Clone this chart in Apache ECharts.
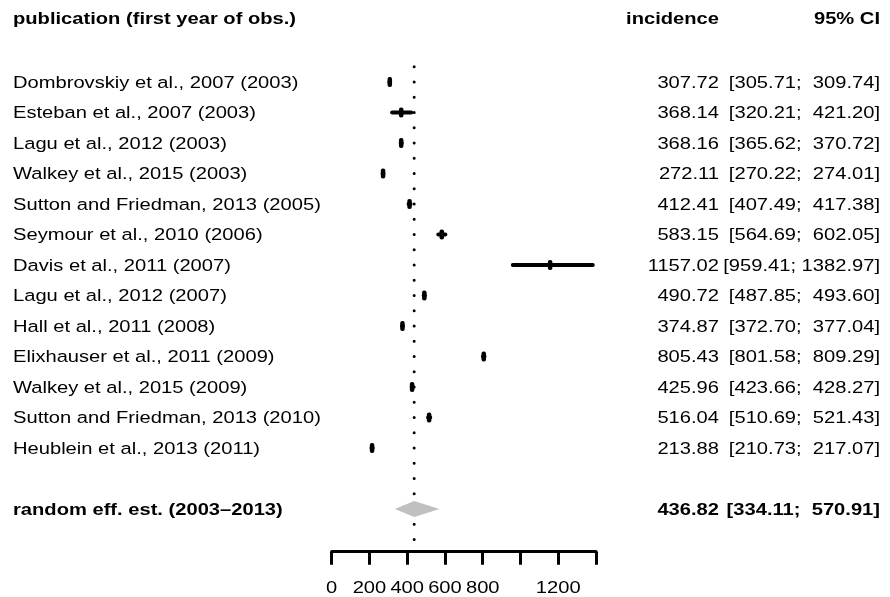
<!DOCTYPE html>
<html>
<head>
<meta charset="utf-8">
<script src="https://cdn.jsdelivr.net/npm/echarts@6/dist/echarts.min.js"></script>
<style>
  html, body { margin: 0; padding: 0; background: #fff; }
  #main { width: 890px; height: 597px; }
</style>
</head>
<body>
<div id="main"></div>
<script>
// Study rows: publication label, incidence estimate and 95% confidence interval
const studies = [
  'Dombrovskiy et al., 2007 (2003)',
  'Esteban et al., 2007 (2003)',
  'Lagu et al., 2012 (2003)',
  'Walkey et al., 2015 (2003)',
  'Sutton and Friedman, 2013 (2005)',
  'Seymour et al., 2010 (2006)',
  'Davis et al., 2011 (2007)',
  'Lagu et al., 2012 (2007)',
  'Hall et al., 2011 (2008)',
  'Elixhauser et al., 2011 (2009)',
  'Walkey et al., 2015 (2009)',
  'Sutton and Friedman, 2013 (2010)',
  'Heublein et al., 2013 (2011)'
];
const incidence = [307.72, 368.14, 368.16, 272.11, 412.41, 583.15, 1157.02, 490.72, 374.87, 805.43, 425.96, 516.04, 213.88];
const ciLower   = [305.71, 320.21, 365.62, 270.22, 407.49, 564.69, 959.41, 487.85, 372.70, 801.58, 423.66, 510.69, 210.73];
const ciUpper   = [309.74, 421.20, 370.72, 274.01, 417.38, 602.05, 1382.97, 493.60, 377.04, 809.29, 428.27, 521.43, 217.07];

// Pooled random-effects estimate
const pooledLabel = 'random eff. est. (2003\u20132013)';
const pooledEstimate = 436.82;
const pooledLower = 334.11;
const pooledUpper = 570.91;

// Column headers
const headerStudy = 'publication (first year of obs.)';
const headerIncidence = 'incidence';
const headerCI = '95% CI';

// Incidence axis
const axisTicks = [0, 200, 400, 600, 800, 1000, 1200, 1400];
const axisTickLabels = ['0', '200', '400', '600', '800', '', '1200', ''];

const pooledRow = studies.length + 1;
const FAMILY = '"Liberation Sans", Arial, Helvetica, sans-serif';
const FONT_SIZE = 16.8;
const WIDEN = 1.2;          // horizontal stretch of the table lettering

const upWidth = Math.max(...ciUpper.concat([pooledUpper]).map(v => v.toFixed(2).length));
const loWidth = Math.max(...ciLower.concat([pooledLower]).map(v => v.toFixed(2).length));
function ciText(lo, hi) {
  return '[' + lo.toFixed(2).padStart(loWidth, ' ') + '; ' + hi.toFixed(2).padStart(upWidth, ' ') + ']';
}

const studyData = studies.map((s, i) => [incidence[i], i, ciLower[i], ciUpper[i]]);
const textRows = studies.map((s, i) => ({
  value: [0, i],
  label: s,
  est: incidence[i].toFixed(2),
  ci: ciText(ciLower[i], ciUpper[i]),
  bold: false
}));
textRows.push({
  value: [0, pooledRow],
  label: pooledLabel,
  est: pooledEstimate.toFixed(2),
  ci: ciText(pooledLower, pooledUpper),
  bold: true
});

function textEl(x, y, text, align, bold) {
  return {
    type: 'text',
    x: x, y: y,
    scaleX: WIDEN,
    style: {
      text: text,
      fill: '#000',
      fontSize: FONT_SIZE,
      fontFamily: FAMILY,
      fontWeight: bold ? 'bold' : 'normal',
      align: align,
      verticalAlign: 'middle'
    }
  };
}

const chart = echarts.init(document.getElementById('main'));
chart.setOption({
  animation: false,
  backgroundColor: '#fff',
  grid: { left: 331.7, right: 294, top: 5.75, height: 545.95 },
  xAxis: {
    type: 'value',
    min: 0, max: 1400, interval: 200,
    axisLine: { show: true, onZero: false, lineStyle: { color: '#000', width: 3 } },
    axisTick: { show: true, length: 13, lineStyle: { color: '#000', width: 3 } },
    axisLabel: { show: false },
    splitLine: { show: false }
  },
  yAxis: { type: 'value', inverse: true, min: -2.5, max: 15.4, show: false },
  graphic: [
    textEl(13, 19, headerStudy, 'left', true),
    textEl(719, 19, headerIncidence, 'right', true),
    textEl(880, 19, headerCI, 'right', true)
  ],
  series: [
    {
      // dotted reference line at the pooled estimate
      type: 'custom',
      z: 1,
      data: [[pooledEstimate, -0.5, pooledRow + 1]],
      renderItem: function (params, api) {
        const top = api.coord([api.value(0), api.value(1)]);
        const bot = api.coord([api.value(0), api.value(2)]);
        const gap = (bot[1] - top[1]) / ((api.value(2) - api.value(1)) * 2);
        return {
          type: 'line',
          shape: { x1: top[0], y1: top[1], x2: bot[0], y2: bot[1] },
          style: { stroke: '#000', lineWidth: 3, lineCap: 'round', lineDash: [0.01, gap - 0.01] }
        };
      }
    },
    {
      // per-study estimate with confidence interval
      type: 'custom',
      z: 2,
      data: studyData,
      renderItem: function (params, api) {
        const p = api.coord([api.value(0), api.value(1)]);
        const lo = api.coord([api.value(2), api.value(1)]);
        const hi = api.coord([api.value(3), api.value(1)]);
        return {
          type: 'group',
          children: [
            { type: 'line', shape: { x1: lo[0], y1: p[1], x2: hi[0], y2: p[1] },
              style: { stroke: '#000', lineWidth: 4, lineCap: 'round' } },
            { type: 'rect', shape: { x: p[0] - 2.25, y: p[1] - 5, width: 4.5, height: 10, r: 2 },
              style: { fill: '#000' } }
          ]
        };
      }
    },
    {
      // pooled estimate diamond
      type: 'custom',
      z: 2,
      data: [[pooledEstimate, pooledRow, pooledLower, pooledUpper]],
      renderItem: function (params, api) {
        const p = api.coord([api.value(0), api.value(1)]);
        const lo = api.coord([api.value(2), api.value(1)]);
        const hi = api.coord([api.value(3), api.value(1)]);
        const h = 8;
        return {
          type: 'polygon',
          shape: { points: [[lo[0], p[1]], [p[0], p[1] - h], [hi[0], p[1]], [p[0], p[1] + h]] },
          style: { fill: '#c0c0c0' }
        };
      }
    },
    {
      // tick labels of the incidence axis, placed on the axis scale
      type: 'custom',
      z: 3,
      data: axisTicks.map((v, k) => ({ value: [v, 15.4], name: axisTickLabels[k] })),
      renderItem: function (params, api) {
        const p = api.coord([api.value(0), api.value(1)]);
        return textEl(p[0], p[1] + 36.5, axisTickLabels[params.dataIndex], 'center', false);
      }
    },
    {
      // table columns: publication, incidence, 95% CI
      type: 'custom',
      z: 3,
      data: textRows,
      renderItem: function (params, api) {
        const row = textRows[params.dataIndex];
        const y = api.coord([0, api.value(1)])[1] + 1;
        return {
          type: 'group',
          children: [
            textEl(13, y, row.label, 'left', row.bold),
            textEl(719, y, row.est, 'right', row.bold),
            textEl(880, y, row.ci, 'right', row.bold)
          ]
        };
      }
    }
  ]
});
</script>
</body>
</html>
